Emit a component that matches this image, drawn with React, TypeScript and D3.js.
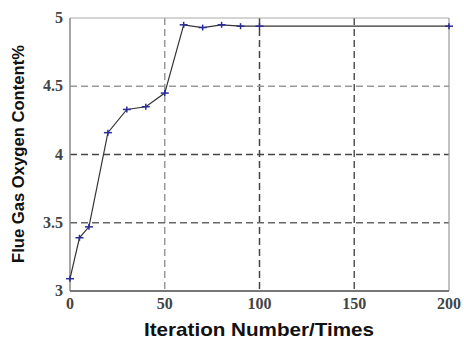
import React, { useEffect, useRef } from 'react';
import * as d3 from 'd3';

const iterations = [0, 5, 10, 20, 30, 40, 50, 60, 70, 80, 90, 100, 200];
const oxygen = [3.09, 3.39, 3.47, 4.16, 4.33, 4.35, 4.45, 4.95, 4.93, 4.95, 4.94, 4.94, 4.94];
const xTicks = [0, 50, 100, 150, 200];
const yTicks = [3, 3.5, 4, 4.5, 5];
const yTickLabels = ['3', '3.5', '4', '4.5', '5'];

export default function App() {
  const ref = useRef<SVGSVGElement | null>(null);

  useEffect(() => {
    if (!ref.current) return;
    const svg = d3.select(ref.current);
    svg.selectAll('*').remove();

    const left = 70, right = 449, top = 18, bottom = 291;
    const x = d3.scaleLinear().domain([0, 200]).range([left, right]);
    const y = d3.scaleLinear().domain([3, 5]).range([bottom, top]);

    svg.append('rect').attr('width', 464).attr('height', 344).attr('fill', '#fff');

    // grid lines (dashed)
    const vColors = ['#999', '#444', '#555'];
    [50, 100, 150].forEach((v, i) => {
      svg.append('line')
        .attr('x1', x(v)).attr('x2', x(v)).attr('y1', top).attr('y2', bottom)
        .attr('stroke', vColors[i]).attr('stroke-width', 1.5)
        .attr('stroke-dasharray', '7,4');
    });
    const hColors = ['#666', '#444', '#999'];
    [3.5, 4, 4.5].forEach((v, i) => {
      svg.append('line')
        .attr('x1', left).attr('x2', right).attr('y1', y(v)).attr('y2', y(v))
        .attr('stroke', hColors[i]).attr('stroke-width', 1.5)
        .attr('stroke-dasharray', '7,4');
    });

    // frame
    svg.append('line').attr('x1', left).attr('x2', right).attr('y1', top).attr('y2', top)
      .attr('stroke', '#aaa').attr('stroke-width', 1.2);
    svg.append('line').attr('x1', right).attr('x2', right).attr('y1', top).attr('y2', bottom)
      .attr('stroke', '#999').attr('stroke-width', 1.2);
    svg.append('line').attr('x1', left).attr('x2', left).attr('y1', top).attr('y2', bottom)
      .attr('stroke', '#888').attr('stroke-width', 1.5);
    svg.append('line').attr('x1', left).attr('x2', right).attr('y1', bottom).attr('y2', bottom)
      .attr('stroke', '#777').attr('stroke-width', 1.8);

    // tick labels
    svg.selectAll('.xt').data(xTicks).enter().append('text')
      .attr('x', d => x(d)).attr('y', bottom + 18)
      .attr('text-anchor', 'middle')
      .attr('font-family', '"Liberation Serif", serif').attr('font-size', 16)
      .attr('font-weight', 'bold').attr('fill', '#444')
      .text(d => String(d));
    svg.selectAll('.yt').data(yTicks).enter().append('text')
      .attr('x', left - 7).attr('y', d => y(d) + 5)
      .attr('text-anchor', 'end')
      .attr('font-family', '"Liberation Serif", serif').attr('font-size', 16)
      .attr('font-weight', 'bold').attr('fill', '#444')
      .text((d, i) => yTickLabels[i]);

    // data line
    const pts = iterations.map((v, i) => [v, oxygen[i]] as [number, number]);
    const line = d3.line<[number, number]>().x(d => x(d[0])).y(d => y(d[1]));
    svg.append('path').datum(pts).attr('d', line).attr('fill', 'none')
      .attr('stroke', '#333').attr('stroke-width', 1.2);

    // markers
    const g = svg.append('g');
    pts.forEach(d => {
      const cx = x(d[0]), cy = y(d[1]);
      g.append('line').attr('x1', cx - 4).attr('x2', cx + 4).attr('y1', cy).attr('y2', cy)
        .attr('stroke', '#2a2a9a').attr('stroke-width', 1.5);
      g.append('line').attr('x1', cx).attr('x2', cx).attr('y1', cy - 3).attr('y2', cy + 3)
        .attr('stroke', '#2a2a9a').attr('stroke-width', 1.5);
    });

    // axis titles
    svg.append('text')
      .attr('x', 259).attr('y', 336)
      .attr('text-anchor', 'middle')
      .attr('font-family', '"Liberation Sans", Arial, sans-serif')
      .attr('font-size', 19).attr('font-weight', 'bold').attr('fill', '#111')
      .attr('textLength', 230).attr('lengthAdjust', 'spacingAndGlyphs')
      .text('Iteration Number/Times');
    svg.append('text')
      .attr('transform', 'translate(24,154) rotate(-90)')
      .attr('text-anchor', 'middle')
      .attr('font-family', '"Liberation Sans", Arial, sans-serif')
      .attr('font-size', 16).attr('font-weight', 'bold').attr('fill', '#111')
      .attr('textLength', 218).attr('lengthAdjust', 'spacingAndGlyphs')
      .text('Flue Gas Oxygen Content%');
  }, []);

  return (
    <svg ref={ref} width={464} height={344}
      style={{ position: 'absolute', left: 0, top: 0, display: 'block' }} />
  );
}
